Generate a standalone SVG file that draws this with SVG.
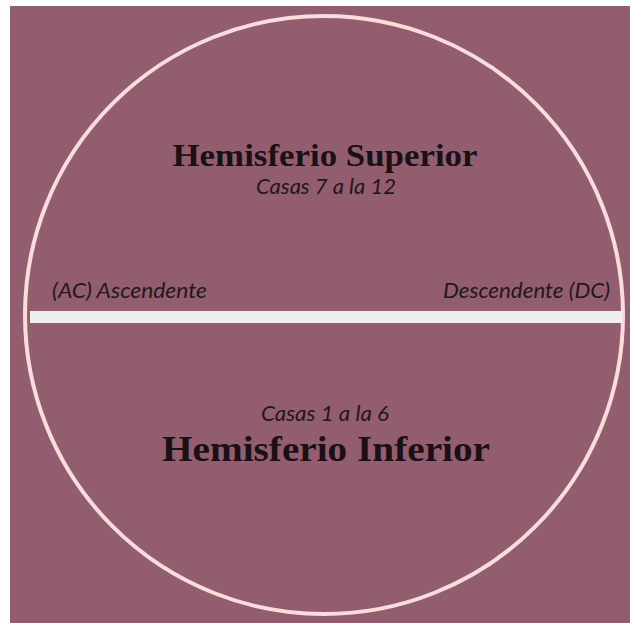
<svg xmlns="http://www.w3.org/2000/svg" width="630" height="623" viewBox="0 0 630 623">
<style>
.title{font-family:"Liberation Serif","DejaVu Serif",serif;font-weight:bold;fill:#1b1015;text-anchor:middle}
.sub{font-family:Lato,"Open Sans",sans-serif;font-style:italic;fill:#24161c;font-size:21px}
</style>
<rect x="0" y="0" width="630" height="623" fill="#ffffff"/>
<rect x="10" y="6" width="620" height="617" fill="#925e6f"/>
<g id="circle">
<circle cx="324" cy="315" r="299" fill="none" stroke="#fbdcdc" stroke-width="4"/>
</g>
<g id="horizon">
<rect x="30" y="311" width="592" height="12" fill="#eef0f0"/>
<text class="sub" x="52" y="298" textLength="155" lengthAdjust="spacingAndGlyphs">(AC) Ascendente</text>
<text class="sub" x="443" y="298" textLength="167" lengthAdjust="spacingAndGlyphs">Descendente (DC)</text>
</g>
<g id="superior">
<text class="title" x="325" y="166" font-size="31" textLength="305" lengthAdjust="spacingAndGlyphs">Hemisferio Superior</text>
<text class="sub" x="326" y="194" text-anchor="middle" textLength="140" lengthAdjust="spacingAndGlyphs">Casas 7 a la 12</text>
</g>
<g id="inferior">
<text class="sub" x="325" y="421" text-anchor="middle" textLength="128" lengthAdjust="spacingAndGlyphs">Casas 1 a la 6</text>
<text class="title" x="326" y="461" font-size="35" textLength="328" lengthAdjust="spacingAndGlyphs">Hemisferio Inferior</text>
</g>
</svg>
